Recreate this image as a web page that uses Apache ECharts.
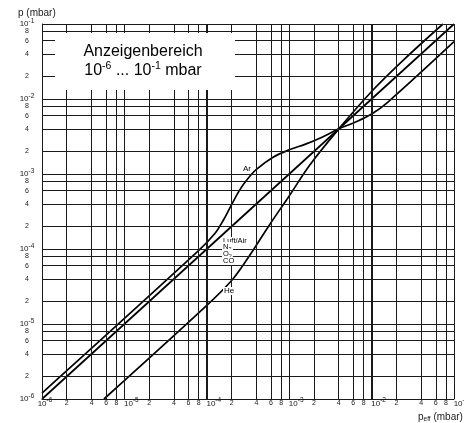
<!DOCTYPE html>
<html><head><meta charset="utf-8">
<script src="https://cdn.jsdelivr.net/npm/echarts@6/dist/echarts.min.js"></script>
<style>html,body{margin:0;padding:0;background:#fff}#c{width:464px;height:423px}</style>
</head><body><div id="c"></div>
<script>
// ---- data (pressures in mbar) ----
const decades = [-6, -5, -4, -3, -2, -1];
const minorMultipliers = [2, 4, 6, 8];
const luftPeff = [1e-6, 1e-1];
const luftP    = [1e-6, 1e-1];
const arPeff = [1e-6, 7.94e-5, 1.26e-4, 1.58e-4, 2.0e-4, 2.5e-4, 3.16e-4, 4.0e-4, 6.3e-4, 1.0e-3, 1.58e-3, 2.5e-3, 4.0e-3, 6.3e-3, 1.0e-2, 1.58e-2, 1.0e-1];
const arP    = [1.2e-6, 9.5e-5, 1.62e-4, 2.4e-4, 3.9e-4, 6.1e-4, 8.7e-4, 1.15e-3, 1.66e-3, 2.1e-3, 2.5e-3, 3.1e-3, 4.0e-3, 4.9e-3, 6.3e-3, 9.1e-3, 5.8e-2];
const hePeff = [5.65e-6, 1.0e-4, 2.0e-4, 3.16e-4, 5.6e-4, 1.0e-3, 1.78e-3, 4.0e-3, 1.0e-2, 2.5e-2, 7.35e-2];
const heP    = [1.0e-6, 1.77e-5, 3.8e-5, 7.6e-5, 2.0e-4, 5.1e-4, 1.32e-3, 4.0e-3, 1.26e-2, 3.4e-2, 1.0e-1];

// ---- helpers ----
const L = v => Math.log10(v);
const toPts = (xs, ys) => xs.map((x, i) => [L(x), L(ys[i])]);
const minorVals = [];
decades.forEach(d => { if (d < -1) minorMultipliers.forEach(m => minorVals.push(d + L(m))); });
// minor labels first, decade labels last (keeps the min/max label overlap check away from neighbours)
const tickVals = minorVals.concat(decades);
const FONT = "'Liberation Sans', Arial, Helvetica, sans-serif";
const COL = '#1a1a1a';
function isDecade(v) { return Math.abs(v - Math.round(v)) < 1e-6; }
function fmtY(v) {
  if (isDecade(v)) return '{d|10}{s|' + Math.round(v) + '}';
  return '{m|' + Math.round(Math.pow(10, v - Math.floor(v))) + '}';
}
function fmtX(v) {
  if (isDecade(v)) {
    const n = Math.round(v);
    return (n === -6 ? '{d6|10}' : '{dx|10}') + '{s|' + n + '}';
  }
  return '{m|' + Math.round(Math.pow(10, v - Math.floor(v))) + '}';
}
const richX = {
  dx: {fontSize: 8, lineHeight: 13, color: COL, fontFamily: FONT, padding: [0, 0, 0, 14]},
  d6: {fontSize: 8, lineHeight: 13, color: COL, fontFamily: FONT, padding: [0, 0, 0, 6]},
  s: {fontSize: 6.5, color: COL, fontFamily: FONT, padding: [0, 0, 6, 0]},
  m: {fontSize: 7, lineHeight: 13, color: COL, fontFamily: FONT}
};
const richY = {
  d: {fontSize: 8, color: COL, fontFamily: FONT},
  s: {fontSize: 6.5, color: COL, fontFamily: FONT, padding: [0, 0, 6, 0]},
  m: {fontSize: 7, lineHeight: 8, color: COL, fontFamily: FONT}
};

const vLines = tickVals.map(v => ({
  xAxis: v,
  lineStyle: {color: COL, width: (Math.abs(v + 4) < 1e-6 || Math.abs(v + 2) < 1e-6) ? 2 : 1, type: 'solid'}
}));
const hLines = tickVals.map(v => ({yAxis: v, lineStyle: {color: COL, width: 1, type: 'solid'}}));

const chart = echarts.init(document.getElementById('c'), null, {renderer: 'canvas'});
const curveStyle = {color: '#000', width: 1.7};
const subRich = {
  a: {fontSize: 7.5, fontFamily: FONT, color: '#000'},
  b: {fontSize: 5.5, fontFamily: FONT, color: '#000', padding: [4, 0, 0, 0]}
};
chart.setOption({
  animation: false,
  backgroundColor: '#fff',
  grid: {left: 42, right: 10, top: 24, bottom: 24, containLabel: false, outerBoundsMode: 'none'},
  xAxis: {
    type: 'value', min: -6, max: -1, interval: 1,
    axisLine: {show: true, onZero: false, lineStyle: {color: COL, width: 1}},
    axisTick: {show: false},
    splitLine: {show: false},
    axisLabel: {
      show: true, customValues: tickVals, formatter: fmtX, margin: -2,
      hideOverlap: false, rich: richX
    }
  },
  yAxis: {
    type: 'value', min: -6, max: -1, interval: 1,
    axisLine: {show: true, onZero: false, lineStyle: {color: COL, width: 1}},
    axisTick: {show: false},
    splitLine: {show: false},
    axisLabel: {
      show: true, customValues: tickVals, formatter: fmtY, margin: 15, align: 'center',
      hideOverlap: false, rich: richY
    }
  },
  series: [
    {
      type: 'line', data: [], z: 1, silent: true,
      markLine: {
        silent: true, symbol: ['none', 'none'], label: {show: false},
        emphasis: {disabled: true}, animation: false,
        data: vLines.concat(hLines)
      }
    },
    {name: 'Luft', type: 'line', z: 3, data: toPts(luftPeff, luftP), showSymbol: false, symbol: 'none', lineStyle: curveStyle, silent: true},
    {name: 'Ar', type: 'line', z: 3, data: toPts(arPeff, arP), showSymbol: false, symbol: 'none', smooth: 0.35, lineStyle: curveStyle, silent: true},
    {name: 'He', type: 'line', z: 3, data: toPts(hePeff, heP), showSymbol: false, symbol: 'none', smooth: 0.35, lineStyle: curveStyle, silent: true}
  ],
  graphic: [
    {type: 'rect', z: 100, shape: {x: 55, y: 33, width: 180, height: 57}, style: {fill: '#fff'}},
    {type: 'text', z: 101, style: {x: 143, y: 52, text: 'Anzeigenbereich', font: '16px ' + FONT, fill: '#000', align: 'center', verticalAlign: 'middle'}},
    {type: 'text', z: 101, style: {x: 143, y: 71, text: '{n|10}{s|-6}{n| ... 10}{s|-1}{n| mbar}', align: 'center', verticalAlign: 'middle', fill: '#000',
      rich: {n: {fontSize: 16, fontFamily: FONT, fill: '#000'}, s: {fontSize: 10.5, fontFamily: FONT, fill: '#000', padding: [0, 0, 9, 0]}}}},
    {type: 'text', z: 101, style: {x: 18, y: 13, text: 'p (mbar)', font: '10px ' + FONT, fill: COL, align: 'left', verticalAlign: 'middle'}},
    {type: 'text', z: 101, style: {x: 418, y: 417, text: '{a|p}{b|eff}{a| (mbar)}', align: 'left', verticalAlign: 'middle', fill: COL,
      rich: {a: {fontSize: 10, fontFamily: FONT, color: COL}, b: {fontSize: 6.5, fontFamily: FONT, color: COL, padding: [5, 0, 0, 0]}}}},
    {type: 'text', z: 101, style: {x: 247, y: 169, text: 'Ar', font: '8px ' + FONT, fill: '#000', align: 'center', verticalAlign: 'middle', backgroundColor: '#fff', padding: [0, 1]}},
    {type: 'text', z: 101, style: {x: 223, y: 241, text: 'Luft/Air', font: '7.5px ' + FONT, fill: '#000', align: 'left', verticalAlign: 'middle', backgroundColor: '#fff'}},
    {type: 'text', z: 101, style: {x: 222, y: 247, text: '{a|N}{b|2}', align: 'left', verticalAlign: 'middle', backgroundColor: '#fff', padding: [0, 1], rich: subRich}},
    {type: 'text', z: 101, style: {x: 222, y: 254, text: '{a|O}{b|2}', align: 'left', verticalAlign: 'middle', backgroundColor: '#fff', padding: [0, 1], rich: subRich}},
    {type: 'text', z: 101, style: {x: 222, y: 261, text: 'CO', font: '7.5px ' + FONT, fill: '#000', align: 'left', verticalAlign: 'middle', backgroundColor: '#fff', padding: [0, 1]}},
    {type: 'text', z: 101, style: {x: 223, y: 291, text: 'He', font: '8px ' + FONT, fill: '#000', align: 'left', verticalAlign: 'middle', backgroundColor: '#fff', padding: [0, 1]}}
  ]
});
</script></body></html>
